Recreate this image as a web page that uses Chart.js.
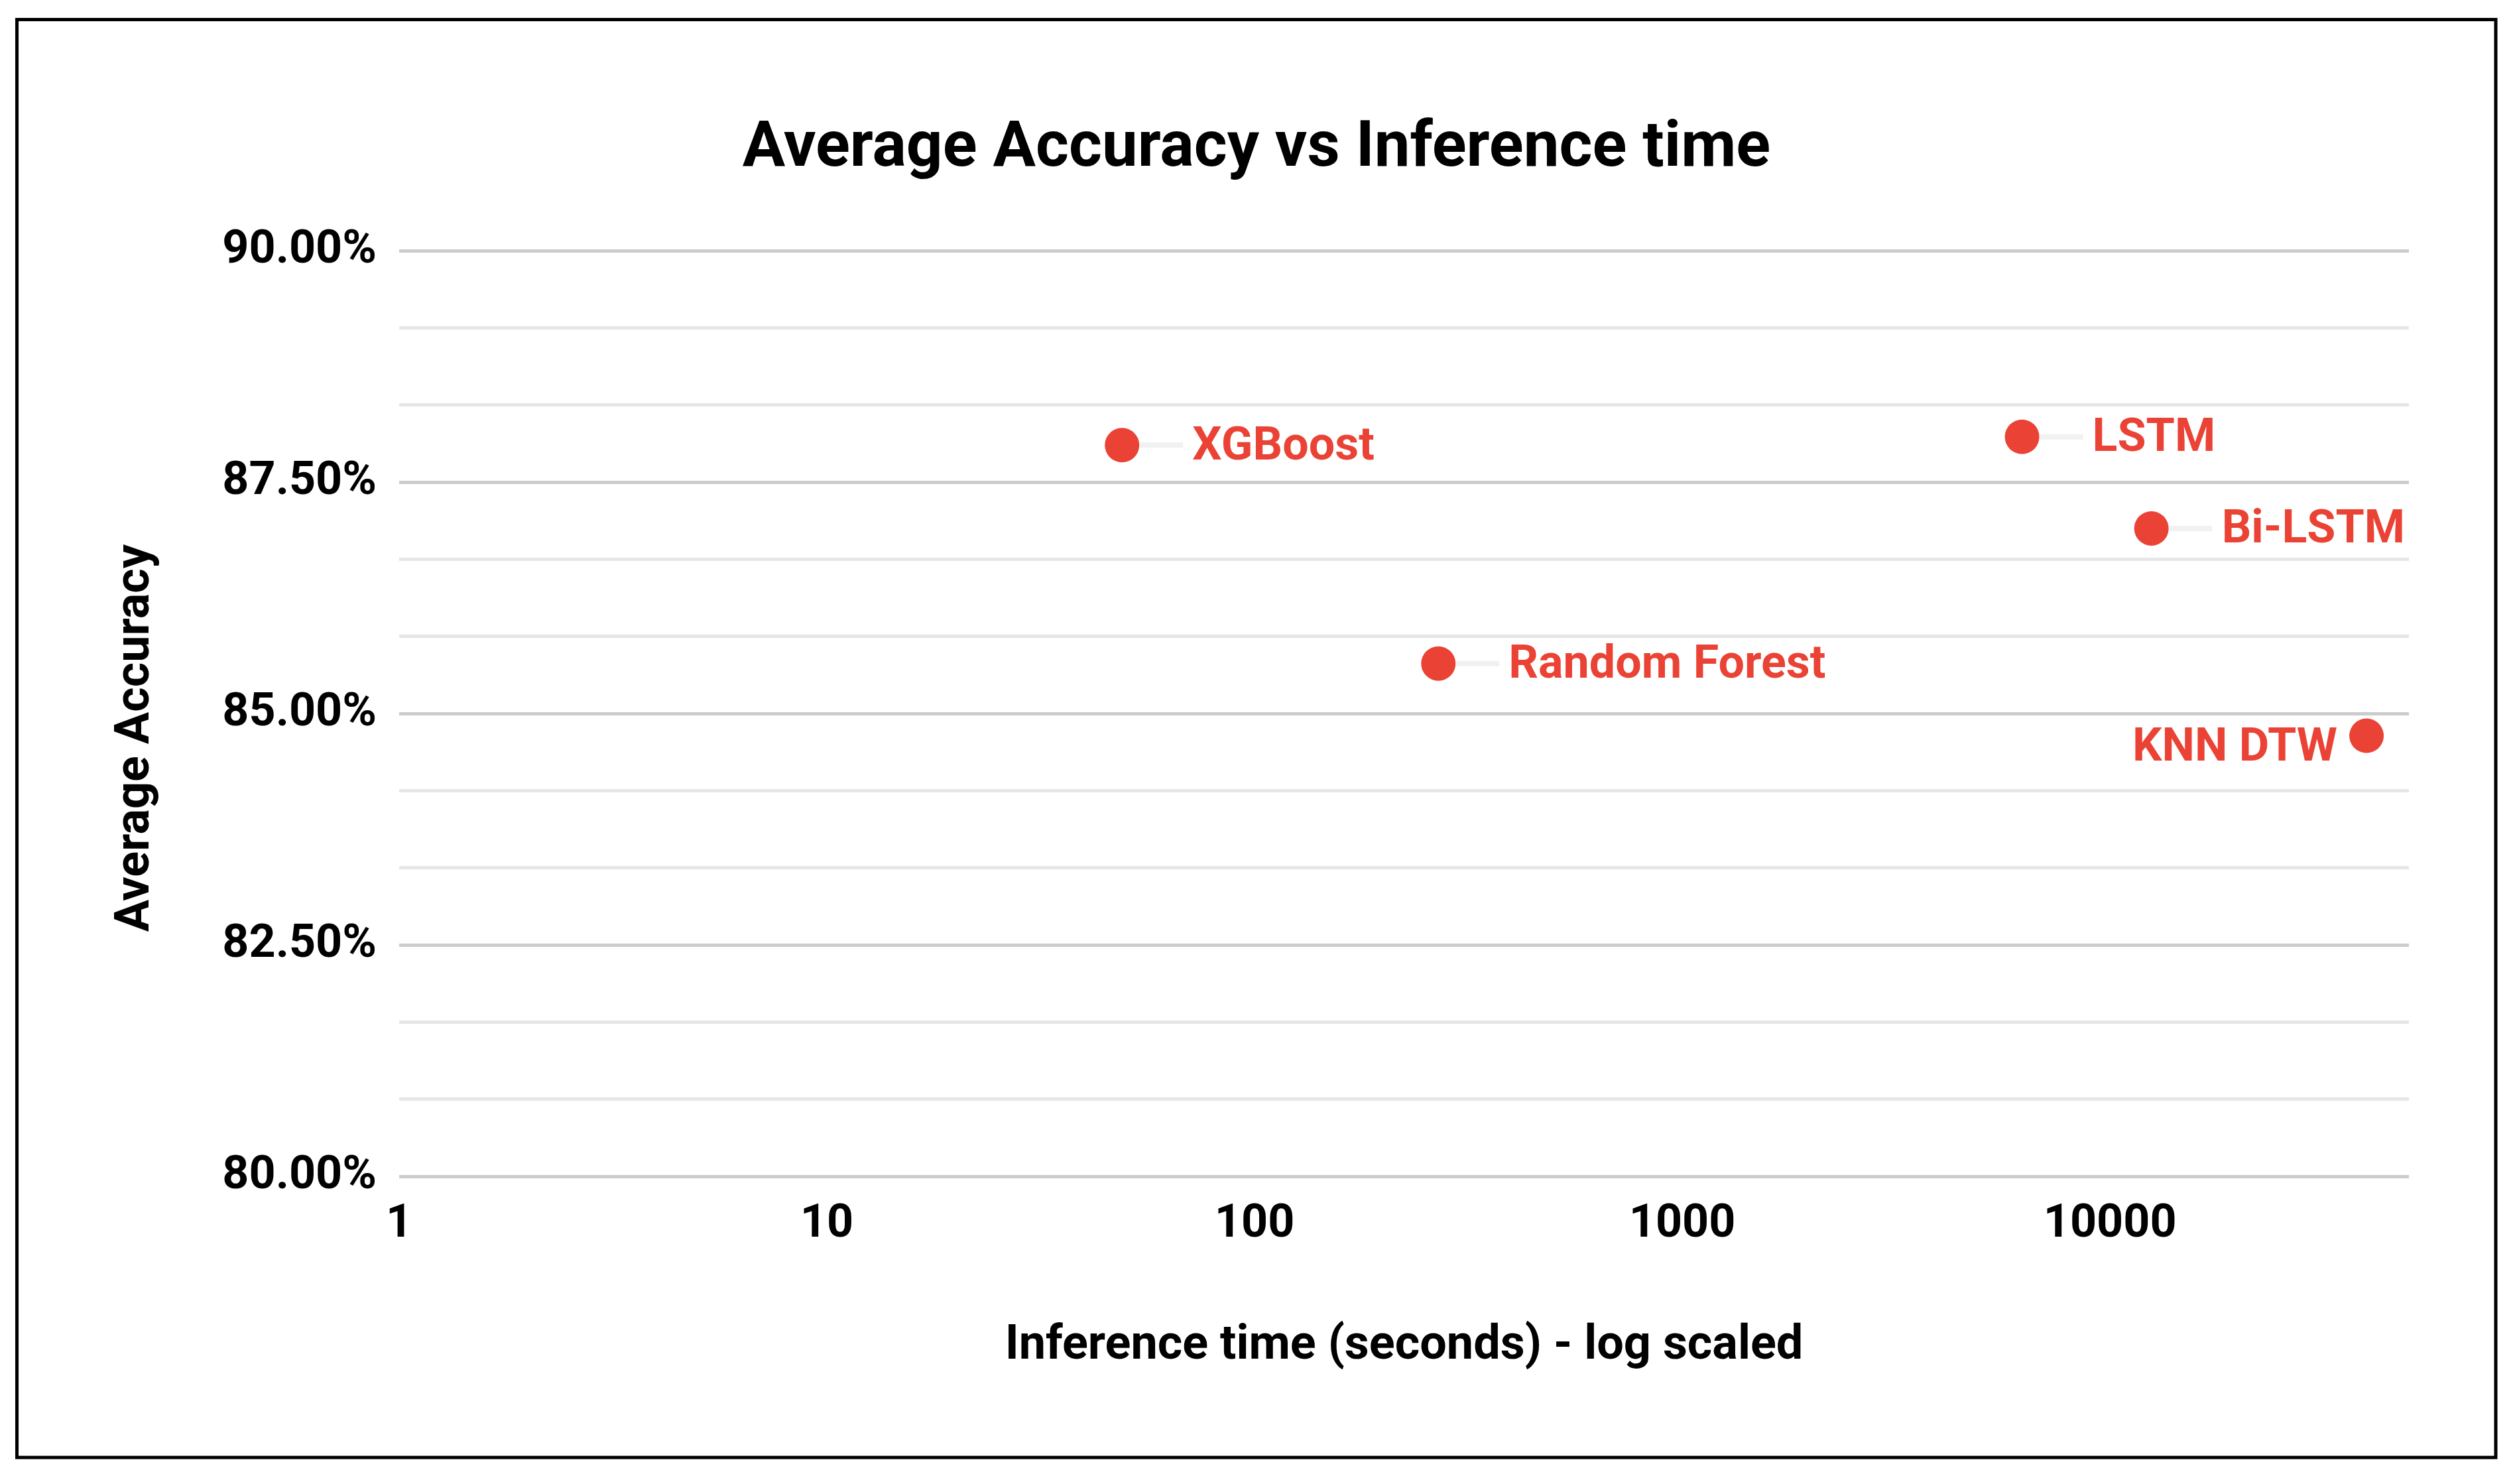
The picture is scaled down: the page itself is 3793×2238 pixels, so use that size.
<!DOCTYPE html>
<html lang="en">
<head>
    <meta charset="UTF-8">
    <title>Average Accuracy vs Inference time</title>
    <script src="https://cdn.jsdelivr.net/npm/chart.js"></script>
    <style>
        body {
            margin: 0;
            background: #ffffff;
            overflow: hidden;
        }
        .chart-container {
            position: relative;
            width: 3793px;
            height: 2238px;
        }
    </style>
</head>
<body>
    <div class="chart-container">
        <canvas id="accChart"></canvas>
    </div>

    <script>
        // Models and their values (inference time in seconds, accuracy in %)
        const models = ['XGBoost', 'Random Forest', 'LSTM', 'Bi-LSTM', 'KNN DTW'];
        const inferenceTime = [49, 269, 6230, 12500, 39800];
        const avgAccuracy = [87.90, 85.54, 87.99, 87.00, 84.76];

        // Axis ticks
        const xTickValues = [1, 10, 100, 1000, 10000];
        const yMin = 80;
        const yMax = 90;
        const yMajorStep = 2.5;

        const RED = '#ea4335';

        // White background, black frame and the rotated y title
        const framePlugin = {
            id: 'frame',
            beforeDraw(chart) {
                const ctx = chart.ctx;
                ctx.save();
                ctx.fillStyle = '#ffffff';
                ctx.fillRect(0, 0, chart.width, chart.height);
                ctx.strokeStyle = '#000000';
                ctx.lineWidth = 5;
                ctx.strokeRect(25.5, 29.5, 3764 - 25.5, 2198 - 29.5);
                ctx.restore();
            },
            afterDraw(chart) {
                const ctx = chart.ctx;
                const area = chart.chartArea;
                ctx.save();
                ctx.translate(area.left - 396, (area.top + area.bottom) / 2 + 37);
                ctx.rotate(-Math.PI / 2);
                ctx.font = 'bold 72px Roboto';
                ctx.fillStyle = '#000000';
                ctx.textAlign = 'center';
                ctx.textBaseline = 'middle';
                ctx.fillText('Average Accuracy', 0, 0);
                ctx.restore();
            }
        };

        // Data labels with a faint leader line, like Sheets does it
        const pointLabels = {
            id: 'pointLabels',
            afterDatasetsDraw(chart) {
                const ctx = chart.ctx;
                const meta = chart.getDatasetMeta(0);
                const area = chart.chartArea;
                ctx.save();
                ctx.font = 'bold 70px Roboto';
                ctx.textBaseline = 'middle';
                meta.data.forEach((pt, i) => {
                    const text = models[i];
                    const w = ctx.measureText(text).width;
                    if (pt.x + 106 + w <= area.right) {
                        // leader line
                        ctx.strokeStyle = '#f1f1f1';
                        ctx.lineWidth = 8;
                        ctx.beginPath();
                        ctx.moveTo(pt.x + 27, pt.y);
                        ctx.lineTo(pt.x + 92, pt.y);
                        ctx.stroke();
                        ctx.fillStyle = RED;
                        ctx.textAlign = 'left';
                        ctx.fillText(text, pt.x + 106, pt.y + 4);
                    } else {
                        ctx.fillStyle = RED;
                        ctx.textAlign = 'right';
                        ctx.fillText(text, pt.x - 44, pt.y + 20);
                    }
                });
                ctx.restore();
            }
        };

        Chart.defaults.font.family = 'Roboto';

        const points = inferenceTime.map((t, i) => ({ x: t, y: avgAccuracy[i] }));

        new Chart(document.getElementById('accChart').getContext('2d'), {
            type: 'scatter',
            data: {
                datasets: [{
                    data: points,
                    yAxisID: 'y',
                    backgroundColor: RED,
                    borderWidth: 0,
                    pointRadius: 26,
                    pointHoverRadius: 26
                }]
            },
            options: {
                responsive: true,
                maintainAspectRatio: false,
                animation: false,
                layout: {
                    padding: { top: 40, left: 40, right: 43, bottom: 88 }
                },
                plugins: {
                    legend: { display: false },
                    tooltip: { enabled: false },
                    title: {
                        display: true,
                        text: 'Average Accuracy vs Inference time',
                        color: '#000000',
                        font: { size: 96, weight: 'bold' },
                        padding: { top: 128, bottom: 95 }
                    }
                },
                scales: {
                    x: {
                        type: 'logarithmic',
                        min: 1,
                        max: 50000,
                        afterBuildTicks: (scale) => {
                            scale.ticks = xTickValues.map(v => ({ value: v }));
                        },
                        afterFit: (scale) => { scale.height = 376; },
                        grid: { display: false, drawTicks: false },
                        border: { display: false },
                        ticks: {
                            autoSkip: false,
                            maxRotation: 0,
                            padding: 31,
                            color: '#000000',
                            font: { size: 70, weight: 'bold' },
                            callback: (v) => String(v)
                        },
                        title: {
                            display: true,
                            text: 'Inference time (seconds) - log scaled',
                            color: '#000000',
                            font: { size: 72, weight: 'bold' },
                            padding: { top: 0, bottom: 76 }
                        }
                    },
                    y: {
                        min: yMin,
                        max: yMax,
                        afterFit: (scale) => { scale.width = 562; },
                        grid: {
                            drawTicks: false,
                            lineWidth: 5,
                            color: (ctx) => ctx.index % 3 === 0 ? '#cccccc' : '#e6e6e6'
                        },
                        border: { display: false },
                        ticks: {
                            stepSize: yMajorStep / 3,
                            autoSkip: false,
                            padding: 34,
                            color: '#000000',
                            font: { size: 70, weight: 'bold' },
                            callback: (v, i) => i % 3 === 0 ? v.toFixed(2) + '%' : ''
                        }
                    },
                    yPad: {
                        type: 'linear',
                        position: 'right',
                        afterFit: (scale) => { scale.width = 117; },
                        grid: { display: false },
                        border: { display: false },
                        ticks: { display: false }
                    }
                }
            },
            plugins: [framePlugin, pointLabels]
        });
    </script>
</body>
</html>
